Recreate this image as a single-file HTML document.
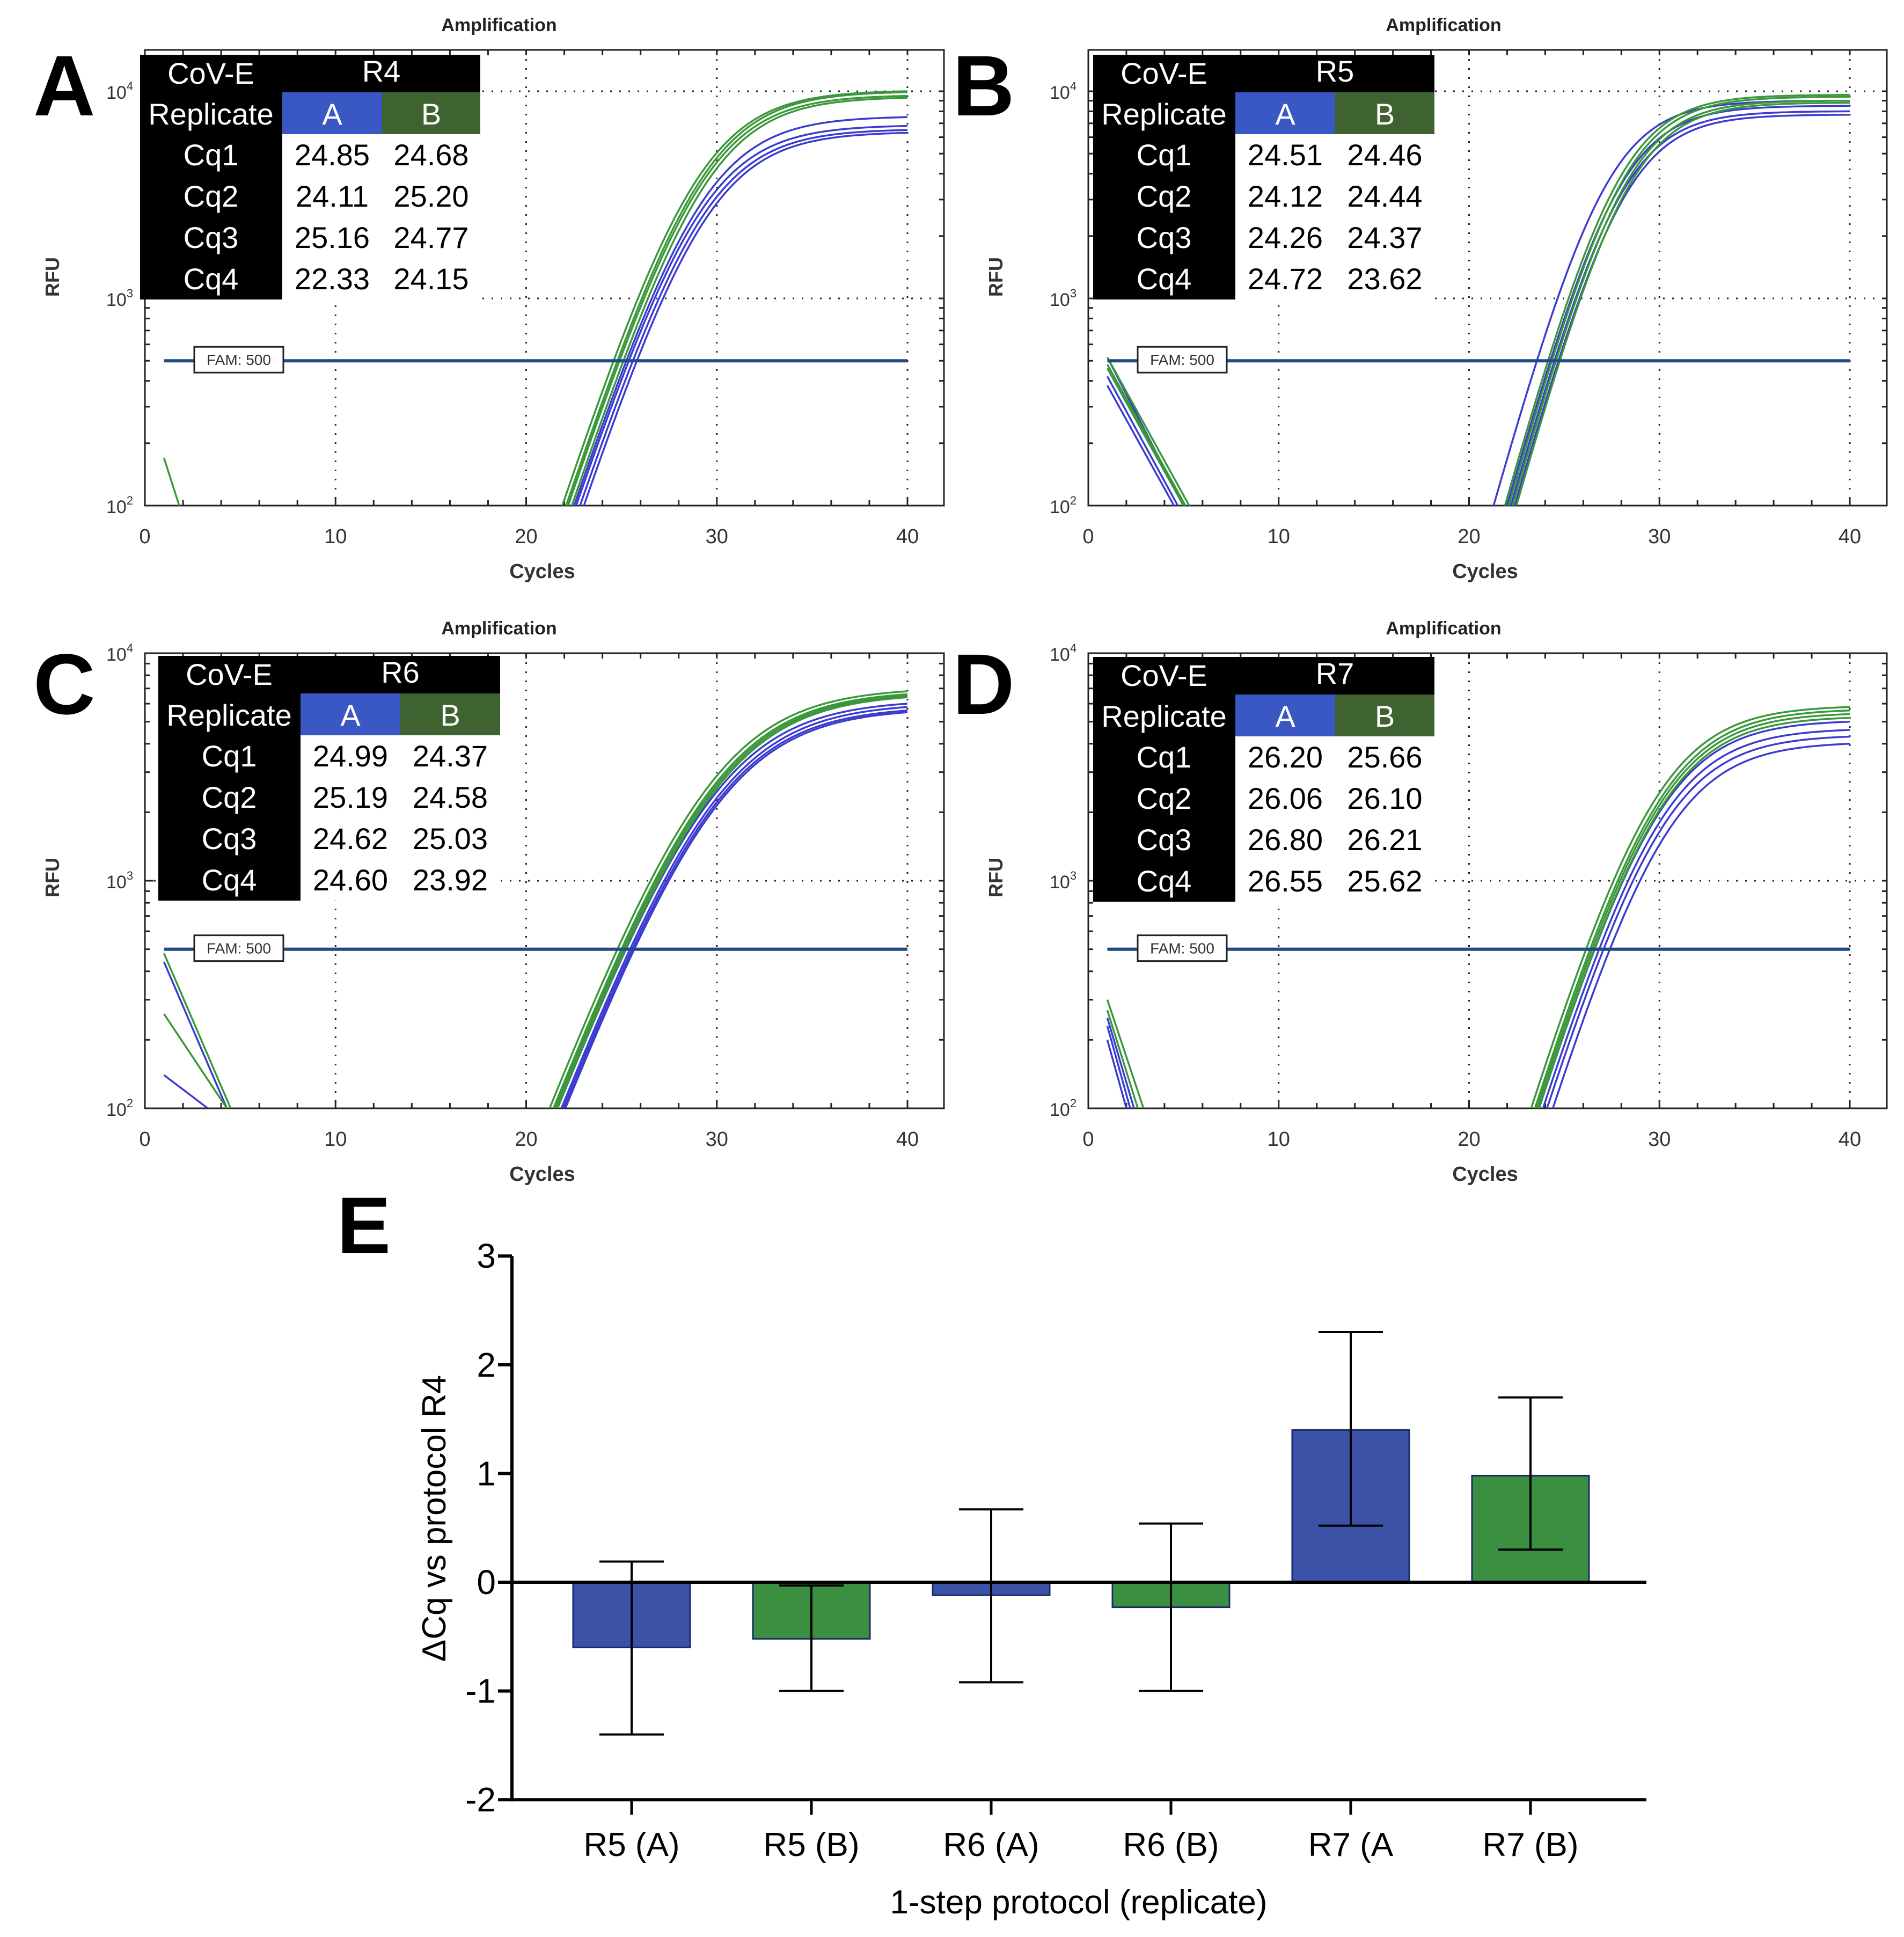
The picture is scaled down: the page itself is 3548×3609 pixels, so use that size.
<!DOCTYPE html>
<html><head><meta charset="utf-8"><style>
html,body{margin:0;padding:0;background:#fff;}
svg{display:block;font-family:"Liberation Sans",sans-serif;}
</style></head><body>
<svg id="fig" width="3548" height="3609" viewBox="0 0 3548 3609" xmlns="http://www.w3.org/2000/svg"></svg>
<script>
// ---------- Panel data ----------
const panelIds = ['A','B','C','D'];
const protocolNames = ['R4','R5','R6','R7'];
const tableCqA = [[24.85,24.11,25.16,22.33],[24.51,24.12,24.26,24.72],[24.99,25.19,24.62,24.60],[26.20,26.06,26.80,26.55]];
const tableCqB = [[24.68,25.20,24.77,24.15],[24.46,24.44,24.37,23.62],[24.37,24.58,25.03,23.92],[25.66,26.10,26.21,25.62]];
// curve threshold crossings and end values at cycle 40
const curveCqGreen = [[24.3,24.5,24.6,24.8],[23.9,24.1,24.3,24.5],[24.3,24.5,24.6,24.7],[25.7,25.9,26.0,26.1]];
const curvePlatGreen = [[10000,9900,9500,9300],[9600,9400,9000,8800],[6800,6600,6500,6400],[5800,5600,5400,5200]];
const curveCqBlue = [[24.9,25.0,25.2,25.4],[23.3,24.0,24.2,24.4],[24.7,24.9,25.0,25.1],[26.1,26.3,26.5,26.8]];
const curvePlatBlue = [[7500,6800,6500,6300],[9000,8500,8000,7700],[6000,5800,5600,5500],[5000,4600,4300,4000]];
const curveSlope = [1.55,1.3,2.0,1.6];
// early baseline (cycle 1 start value, cycle where it reaches 100)
const earlyStartGreen = [[170],[520,480,460],[480,260],[300,270]];
const earlyEndGreen = [[1.8],[5.3,5.1,5.0],[4.5,4.3],[2.9,2.6]];
const earlyStartBlue = [[],[520,420,380],[440,140],[250,230,200]];
const earlyEndBlue = [[],[5.0,4.7,4.5],[4.3,3.3],[2.4,2.2,2.0]];
const threshold = 500;

// ---------- Bar chart data ----------
const barCats = ['R5 (A)','R5 (B)','R6 (A)','R6 (B)','R7 (A','R7 (B)'];
const barVals = [-0.6,-0.52,-0.12,-0.23,1.4,0.98];
const barErrHi = [0.19,-0.03,0.67,0.54,2.3,1.7];
const barErrLo = [-1.4,-1.0,-0.92,-1.0,0.52,0.3];
const barYTicks = [3,2,1,0,-1,-2];

const NS='http://www.w3.org/2000/svg';
const svg=document.getElementById('fig');
function mk(tag,attrs,parent,text){const e=document.createElementNS(NS,tag);for(const k in attrs)e.setAttribute(k,attrs[k]);if(text!==undefined)e.textContent=text;(parent||svg).appendChild(e);return e;}

const BLUE='#3b3bd0', GREEN='#3a973a', KNEE=0.7;
const layouts=[
 {x0:270,x40:1691,right:1759,top:93,y4:170,y2:942,tbl:[261,102,634,77],title:930,letter:[62,215]},
 {x0:2028,x40:3447,right:3516,top:93,y4:170,y2:942,tbl:[2037,102,636,77],title:2690,letter:[1775,215]},
 {x0:270,x40:1691,right:1759,top:1217,y4:1217,y2:2065,tbl:[295,1222,637,77],title:930,letter:[62,1330]},
 {x0:2028,x40:3447,right:3516,top:1217,y4:1217,y2:2065,tbl:[2037,1224,636,77],title:2690,letter:[1775,1330]}
];

panelIds.forEach((pid,pi)=>{
 const L=layouts[pi];
 const g=mk('g',{},svg);
 
 
 const X=c=>L.x0+(L.x40-L.x0)*c/40;
 const Y=v=>L.y2-(L.y2-L.y4)*(Math.log10(v)-2)/2;
 const t=mk('text',{x:L.title,y:L.top-35,'font-size':34,'font-weight':'bold','text-anchor':'middle',fill:'#222'},g,'Amplification');
 
 const fr=mk('rect',{x:L.x0,y:L.top,width:L.right-L.x0,height:L.y2-L.top,fill:'none',stroke:'#222','stroke-width':3},g);
 
 [10,20,30,40].forEach(c=>{const l=mk('line',{x1:X(c),x2:X(c),y1:L.top,y2:L.y2,stroke:'#222','stroke-width':3,'stroke-dasharray':'3 14'},g);});
 [1000,10000].forEach(v=>{const l=mk('line',{x1:L.x0,x2:L.right,y1:Y(v),y2:Y(v),stroke:'#222','stroke-width':3,'stroke-dasharray':'3 14'},g);});
 for(let c=0;c<=42;c+=2){if(X(c)>L.right)break;mk('line',{x1:X(c),x2:X(c),y1:L.y2,y2:L.y2-(c%10==0?16:10),stroke:'#222','stroke-width':3},g);mk('line',{x1:X(c),x2:X(c),y1:L.top,y2:L.top+10,stroke:'#222','stroke-width':3},g);}
 for(let d=2;d<=4;d++){for(let m=1;m<=9;m++){const v=m*Math.pow(10,d);if(d==4&&m>1)break;const y=Y(v);if(y<L.top-1)continue;mk('line',{x1:L.x0,x2:L.x0+(m==1?16:9),y1:y,y2:y,stroke:'#222','stroke-width':3},g);mk('line',{x1:L.right,x2:L.right-9,y1:y,y2:y,stroke:'#222','stroke-width':3},g);}}
 [0,10,20,30,40].forEach(c=>{const e=mk('text',{x:X(c),y:L.y2+70,'font-size':38,'text-anchor':'middle',fill:'#333'},g,String(c));});
 [2,3,4].forEach(d=>{const e=mk('text',{x:L.x0-72,y:Y(Math.pow(10,d))+14,'font-size':34,fill:'#333'},g);e.innerHTML='10<tspan dy="-16" font-size="22">'+d+'</tspan>';});
 const xl=mk('text',{x:(L.x0+L.x40)/2+30,y:L.y2+135,'font-size':38,'font-weight':'bold','text-anchor':'middle',fill:'#333'},g,'Cycles');
 
 const ry=L.top==93?516:1635;
 const yl=mk('text',{x:L.x0-160,y:ry,'font-size':36,'font-weight':'bold','text-anchor':'middle',fill:'#333',transform:'rotate(-90 '+(L.x0-160)+' '+ry+')'},g,'RFU');
 
 const cid='clip'+pid;
 const cp=mk('clipPath',{id:cid},g);mk('rect',{x:L.x0,y:L.top,width:L.right-L.x0,height:L.y2-L.top},cp);
 const cg=mk('g',{'clip-path':'url(#'+cid+')'},g);
 const th=mk('line',{x1:X(1),x2:X(40),y1:Y(threshold),y2:Y(threshold),stroke:'#1f4a86','stroke-width':6},g);
 
 const s=curveSlope[pi];
 const shape=(E,P)=>E/Math.pow(1+Math.pow(E/P,KNEE),1/KNEE);
 function curve(cq,end40,col,name){
  const E=c=>threshold*Math.exp((c-cq)/s);
  let lo=end40,hi=end40*6;
  for(let k=0;k<60;k++){const mid=(lo+hi)/2;if(shape(E(40),mid)<end40)lo=mid;else hi=mid;}
  const P=(lo+hi)/2;let d='';
  for(let c=15;c<=40.001;c+=0.1){const v=shape(E(c),P);const y=Math.min(Y(Math.max(v,20)),L.y2+200);d+=(d?'L':'M')+X(c).toFixed(1)+','+y.toFixed(1);}
  const p=mk('path',{d:d,fill:'none',stroke:col,'stroke-width':3.5},cg);
  
 }
 function early(v0,cEnd,col,name){
  let d='';for(let c=1;c<=cEnd+0.6;c+=0.05){const v=v0*Math.pow(100/v0,(c-1)/(cEnd-1));d+=(d?'L':'M')+X(c).toFixed(1)+','+Y(v).toFixed(1);}
  const p=mk('path',{d:d,fill:'none',stroke:col,'stroke-width':3.5},cg);
  
 }
 curveCqBlue[pi].forEach((cq,i)=>curve(cq,curvePlatBlue[pi][i],BLUE,'curve-replicate-a'));
 curveCqGreen[pi].forEach((cq,i)=>curve(cq,curvePlatGreen[pi][i],GREEN,'curve-replicate-b'));
 earlyStartBlue[pi].forEach((v,i)=>early(v,earlyEndBlue[pi][i],BLUE,'baseline-replicate-a'));
 earlyStartGreen[pi].forEach((v,i)=>early(v,earlyEndGreen[pi][i],GREEN,'baseline-replicate-b'));
 const lb=mk('rect',{x:X(0)+92,y:Y(threshold)-26,width:166,height:48,fill:'#fff',stroke:'#222','stroke-width':3},g);
 
 const lt=mk('text',{x:X(0)+175,y:Y(threshold)+8,'font-size':28,'text-anchor':'middle',fill:'#333'},g,'FAM: 500');
 
 const [tx,ty,tw,rh]=L.tbl;const c1=tx+265,c2=tx+451;
 const tg=mk('g',{},g);
 mk('rect',{x:tx,y:ty,width:tw,height:70,fill:'#000'},tg);
 mk('rect',{x:tx,y:ty,width:265,height:70+78+rh*4,fill:'#000'},tg);
 mk('rect',{x:c1,y:ty+70,width:186,height:78,fill:'#3a58c4'},tg);
 mk('rect',{x:c2,y:ty+70,width:tx+tw-c2,height:78,fill:'#3e6330'},tg);
 mk('rect',{x:c1,y:ty+148,width:tx+tw-c1,height:rh*4,fill:'#fff'},tg);
 const tf={'font-size':56,'text-anchor':'middle'};
 mk('text',Object.assign({x:tx+132,y:ty+54,fill:'#fff'},tf),tg,'CoV-E');
 mk('text',Object.assign({x:(c1+tx+tw)/2,y:ty+50,fill:'#fff'},tf),tg,protocolNames[pi]);
 mk('text',Object.assign({x:tx+132,y:ty+130,fill:'#fff'},tf),tg,'Replicate');
 mk('text',Object.assign({x:c1+93,y:ty+130,fill:'#fff'},tf),tg,'A');
 mk('text',Object.assign({x:(c2+tx+tw)/2,y:ty+130,fill:'#fff'},tf),tg,'B');
 for(let r=0;r<4;r++){const yy=ty+148+rh*r+58;
  mk('text',Object.assign({x:tx+132,y:yy,fill:'#fff'},tf),tg,'Cq'+(r+1));
  mk('text',Object.assign({x:c1+93,y:yy,fill:'#000'},tf),tg,tableCqA[pi][r].toFixed(2));
  mk('text',Object.assign({x:(c2+tx+tw)/2,y:yy,fill:'#000'},tf),tg,tableCqB[pi][r].toFixed(2));}
 const pl=mk('text',{x:L.letter[0],y:L.letter[1],'font-size':160,'font-weight':'bold',fill:'#000'},svg,pid);
 
});

// ---------- Panel E ----------
(function(){
 const ax=954, y0=2948, unit=202.6, xEnd=3068, cat0=1177, step=335, bw=218;
 const Y=v=>y0-v*unit, X=i=>cat0+i*step;
 const g=mk('g',{},svg);
 const el=mk('text',{x:628,y:2335,'font-size':150,'font-weight':'bold',fill:'#000'},svg,'E');
 
 barVals.forEach((v,i)=>{
  const col=i%2==0?'#3b52a6':'#3a8f40';
  const r=mk('rect',{x:X(i)-bw/2,y:Math.min(Y(v),y0),width:bw,height:Math.abs(Y(v)-y0),fill:col,stroke:'#1a2a6a','stroke-width':3},g);
  
  const e=mk('path',{d:'M'+X(i)+','+Y(barErrHi[i])+'V'+Y(barErrLo[i])+'M'+(X(i)-60)+','+Y(barErrHi[i])+'h120M'+(X(i)-60)+','+Y(barErrLo[i])+'h120',stroke:'#000','stroke-width':4,fill:'none'},g);
  
 });
 const ya=mk('line',{x1:ax,x2:ax,y1:Y(3),y2:Y(-2)+3,stroke:'#000','stroke-width':6},g);
 const xa=mk('line',{x1:ax,x2:xEnd,y1:Y(-2),y2:Y(-2),stroke:'#000','stroke-width':6},g);
 const zl=mk('line',{x1:ax,x2:xEnd,y1:y0,y2:y0,stroke:'#000','stroke-width':6},g);
 barYTicks.forEach(v=>{mk('line',{x1:ax-26,x2:ax,y1:Y(v),y2:Y(v),stroke:'#000','stroke-width':6},g);
  const t=mk('text',{x:ax-30,y:Y(v)+22,'font-size':64,'text-anchor':'end',fill:'#000'},g,String(v));});
 barCats.forEach((c,i)=>{mk('line',{x1:X(i),x2:X(i),y1:Y(-2),y2:Y(-2)+28,stroke:'#000','stroke-width':5},g);
  const t=mk('text',{x:X(i),y:3458,'font-size':62,'text-anchor':'middle',fill:'#000'},g,c);});
 const xt=mk('text',{x:2010,y:3565,'font-size':62,'text-anchor':'middle',fill:'#000'},g,'1-step protocol (replicate)');
 
 const yt=mk('text',{x:830,y:2829,'font-size':62,'text-anchor':'middle',fill:'#000',transform:'rotate(-90 830 2829)'},g,'ΔCq vs protocol R4');
 
})();
</script>
</body></html>
